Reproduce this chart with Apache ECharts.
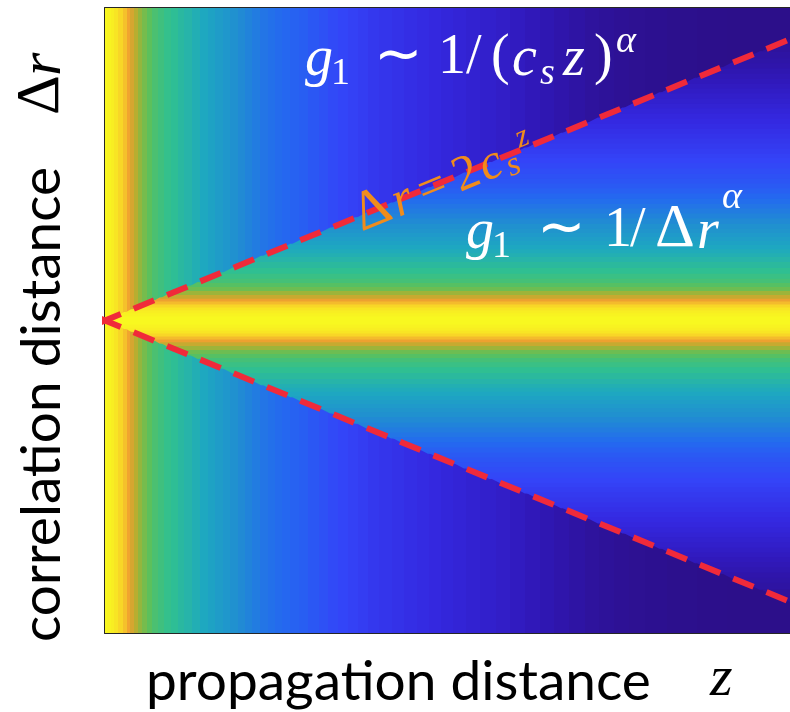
<!DOCTYPE html>
<html>
<head>
<meta charset="utf-8">
<script src="https://cdn.jsdelivr.net/npm/echarts@6/dist/echarts.min.js"></script>
<style>
html, body { margin: 0; padding: 0; background: #fff; }
#chart { width: 790px; height: 712px; }
</style>
</head>
<body>
<div id="chart"></div>
<script>
// g1 outside the cone: read along a row far from the centre (z only)
var zAt = [0, 0.02, 0.035, 0.05, 0.07, 0.09, 0.105, 0.12, 0.14, 0.155, 0.175, 0.195, 0.22, 0.245,
	0.275, 0.305, 0.335, 0.365, 0.4, 0.435, 0.47, 0.5, 0.535, 0.565, 0.6, 0.63, 0.665, 0.7, 0.73,
	0.76, 0.795, 0.83, 0.87, 0.915, 0.96, 1.0, 1.045, 1.09, 1.13, 1.175, 1.23, 1.285, 1.34, 1.395,
	1.45, 1.5, 1.555, 1.61, 1.68, 1.745, 1.81, 1.875, 1.94, 2.0, 2.07, 2.135, 2.2, 2.265, 2.33,
	2.4, 2.53, 2.66, 2.79, 2.92, 3.0]
var zVal = [1.0, 0.99, 0.98, 0.96, 0.93, 0.89, 0.84, 0.80, 0.76, 0.72, 0.69, 0.66, 0.63, 0.61,
	0.59, 0.575, 0.555, 0.54, 0.52, 0.50, 0.48, 0.46, 0.44, 0.42, 0.405, 0.39, 0.375, 0.36, 0.35,
	0.34, 0.33, 0.32, 0.31, 0.295, 0.28, 0.265, 0.253, 0.24, 0.228, 0.215, 0.205, 0.195, 0.185, 0.175,
	0.165, 0.155, 0.145, 0.135, 0.125, 0.115, 0.10, 0.085, 0.072, 0.06, 0.047, 0.035, 0.027, 0.02, 0.014,
	0.01, 0.005, 0.002, 0, 0, 0]
// g1 inside the cone: read along a column (|dr| only)
var rAt = [0, 0.03, 0.06, 0.09, 0.115, 0.145, 0.175, 0.2, 0.23, 0.27, 0.31, 0.345, 0.385, 0.43,
	0.48, 0.54, 0.595, 0.635, 0.67, 0.71, 0.75, 0.79, 0.825, 0.865, 0.91, 0.96, 1.01, 1.055, 1.105,
	1.15, 1.2, 1.25, 1.295, 1.345, 1.39, 1.44, 1.49, 1.54, 1.585, 1.63, 1.68, 1.73, 1.775, 1.82,
	1.87, 1.92, 1.965, 2.015, 2.065, 2.11, 2.16, 2.21, 2.255, 2.3, 2.35, 2.4, 2.45, 2.5, 2.545,
	2.62, 2.69, 2.76, 2.83, 2.92, 3.0]
var rVal = [1.0, 1.0, 0.99, 0.98, 0.96, 0.93, 0.88, 0.83, 0.78, 0.73, 0.68, 0.65, 0.62, 0.60,
	0.58, 0.56, 0.54, 0.525, 0.51, 0.495, 0.48, 0.465, 0.45, 0.435, 0.42, 0.405, 0.39, 0.375, 0.36,
	0.345, 0.33, 0.315, 0.30, 0.29, 0.28, 0.27, 0.26, 0.25, 0.24, 0.23, 0.22, 0.21, 0.20, 0.19,
	0.18, 0.17, 0.16, 0.15, 0.14, 0.13, 0.12, 0.11, 0.10, 0.09, 0.08, 0.07, 0.06, 0.052, 0.045,
	0.037, 0.03, 0.022, 0.015, 0.008, 0.005]
var coneSlope = 0.9 // dr = 2 cs z
var coneZ = [-0.02, 3]
var coneUp = [-0.018, 2.7]
var coneDown = [0.018, -2.7]
var xTicks = [0, 1, 2, 3]
var yTicks = [-3, -2, -1, 0, 1, 2, 3]
var parula = ['#2c0f8a', '#3018b8', '#3428e0', '#3444f8', '#2468f0', '#2090d0', '#1ea8c0',
	'#30c090', '#60c058', '#b0b030', '#f0a030', '#f8d028', '#f8f820']

var zMax = xTicks[xTicks.length - 1]
var rMax = yTicks[yTicks.length - 1]

// cell edges half way between read points
function edges(at, max) {
	var e = [0]
	for (var i = 1; i < at.length; i++) e.push((at[i - 1] + at[i]) / 2)
	e.push(max)
	return e
}
var zEdge = edges(zAt, zMax)
var rEdge = edges(rAt, rMax)

var columns = zVal.map(function (v, i) { return [zEdge[i], zEdge[i + 1], v] })
var bands = [[-rEdge[1], rEdge[1], rVal[0]]]
for (var k = 1; k < rVal.length; k++) {
	bands.push([rEdge[k], rEdge[k + 1], rVal[k]])
	bands.push([-rEdge[k + 1], -rEdge[k], rVal[k]])
}

function renderColumn(params, api) {
	var p0 = api.coord([api.value(0), rMax])
	var p1 = api.coord([api.value(1), -rMax])
	var x0 = Math.floor(p0[0]), x1 = Math.ceil(p1[0])
	return {
		type: 'rect',
		shape: { x: x0, y: p0[1], width: x1 - x0, height: p1[1] - p0[1] },
		style: { fill: api.visual('color') }
	}
}

function renderBand(params, api) {
	var lo = api.value(0), hi = api.value(1)
	var pts = [[Math.abs(lo) / coneSlope, lo], [zMax, lo], [zMax, hi], [Math.abs(hi) / coneSlope, hi]]
	if (lo < 0 && hi > 0) pts.push([0, 0])
	pts = pts.map(function (p) {
		var c = api.coord(p)
		// small overlap so neighbouring bands leave no seam
		if (p[1] === lo) c[1] += 0.6
		if (p[1] === hi) c[1] -= 0.6
		return c
	})
	return { type: 'polygon', shape: { points: pts }, style: { fill: api.visual('color') } }
}

var chart = echarts.init(document.getElementById('chart'))

var axisColor = '#262626'
function frameAxis(pos, min, max) {
	return {
		type: 'value', position: pos, min: min, max: max, interval: 1,
		axisLine: { show: true, onZero: false, lineStyle: { color: axisColor, width: 2 } },
		axisTick: { show: true, inside: true, length: 7, lineStyle: { color: axisColor, width: 2 } },
		axisLabel: { show: false },
		splitLine: { show: false }
	}
}

function tx(s, x, y, size, italic, color, family) {
	return {
		type: 'text', x: x, y: y, z: 100,
		style: {
			text: s, fill: color || '#fff', verticalAlign: 'middle',
			font: (italic ? 'italic ' : '') + size + 'px ' + (family || 'serif')
		}
	}
}
var orange = '#f08c1c'

chart.setOption({
	animation: false,
	grid: { left: 105, top: 8, width: 689, height: 625 },
	visualMap: {
		show: false, type: 'continuous', min: 0, max: 1, dimension: 2, seriesIndex: [0, 1],
		inRange: { color: parula }
	},
	xAxis: [
		frameAxis('bottom', xTicks[0], zMax),
		frameAxis('top', xTicks[0], zMax)
	],
	yAxis: [
		frameAxis('left', yTicks[0], rMax)
	],
	series: [
		{ type: 'custom', data: columns, renderItem: renderColumn, z: 1, silent: true },
		{ type: 'custom', data: bands, renderItem: renderBand, z: 2, silent: true },
		{
			type: 'line', symbol: 'none', clip: false, z: 5, silent: true,
			data: coneZ.map(function (v, i) { return [v, coneUp[i]] }),
			lineStyle: { color: '#f02a3a', width: 6, type: [22, 14] }
		},
		{
			type: 'line', symbol: 'none', clip: false, z: 5, silent: true,
			data: coneZ.map(function (v, i) { return [v, coneDown[i]] }),
			lineStyle: { color: '#f02a3a', width: 6, type: [22, 14] }
		}
	],
	graphic: [
		// g1 ~ 1/(cs z)^alpha
		tx('g', 305, 60, 56, true), tx('1', 331, 74, 38),
		tx('\u223c', 374, 58, 58), tx('1', 438, 58, 56), tx('/', 466, 58, 56),
		tx('(', 491, 58, 56), tx('c', 512, 60, 56, true), tx('s', 540, 74, 38, true),
		tx('z', 563, 60, 56, true), tx(')', 594, 58, 56), tx('\u03b1', 616, 42, 38, true),
		// g1 ~ 1/dr^alpha
		tx('g', 466, 233, 56, true), tx('1', 492, 247, 38),
		tx('\u223c', 537, 231, 58), tx('1', 604, 231, 56), tx('/', 630, 231, 56),
		tx('\u0394', 655, 230, 62), tx('r', 697, 233, 56, true), tx('\u03b1', 722, 198, 38, true),
		// dr = 2 cs z along the cone
		{ type: 'group', x: 356, y: 218, rotation: 0.386, children: [
			tx('\u0394', 0, 0, 56, false, orange), tx('r', 40, 2, 50, true, orange),
			tx('=', 68, 2, 50, false, orange), tx('2', 106, 2, 50, false, orange),
			tx('c', 134, 2, 50, true, orange), tx('s', 159, 11, 34, true, orange),
			tx('z', 178, -12, 32, true, orange)
		] },
		// axis titles
		tx('propagation distance', 146, 682, 55, false, '#000', 'Lato'),
		tx('z', 710, 680, 58, true, '#000'),
		{ type: 'group', x: 42, y: 642, rotation: Math.PI / 2, children: [
			tx('correlation distance', 0, 0, 55, false, '#000', 'Lato'),
			tx('\u0394', 527, 0, 62, false, '#000'), tx('r', 566, 2, 60, true, '#000')
		] }
	]
})
</script>
</body>
</html>
